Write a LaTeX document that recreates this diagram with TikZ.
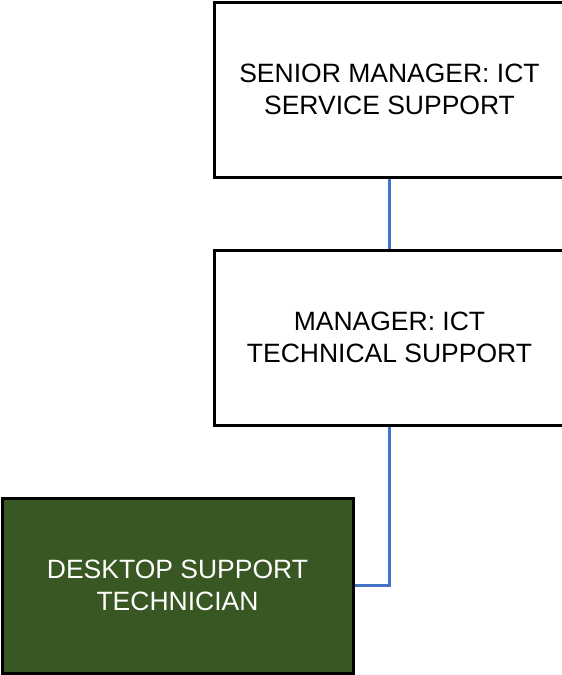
\documentclass[tikz,border=0pt]{standalone}
\usepackage{fontspec}
\setmainfont{Liberation Sans}
\definecolor{linkblue}{RGB}{68,114,196}
\definecolor{deskgreen}{RGB}{56,87,35}
\tikzset{
  postbox/.style={draw=black, line width=3pt, fill=white, minimum width=351pt,
    minimum height=175pt, align=center, inner sep=0pt,
    font=\fontsize{26.5pt}{32pt}\selectfont},
  link/.style={linkblue, line width=2.5pt}
}
\begin{document}
\begin{tikzpicture}[x=1pt, y=-1pt]

  % -- Page frame --
  \clip (0, 0) rectangle (562, 675);

  % -- Posts --
  \node[postbox] (senior) at (389.5, 89.5) {SENIOR MANAGER: ICT\\SERVICE SUPPORT};
  \node[postbox] (manager) at (389.5, 337.5) {MANAGER: ICT\\TECHNICAL SUPPORT};
  \node[postbox, fill=deskgreen, text=white] (desktop) at (177.5, 585.5) {DESKTOP SUPPORT\\TECHNICIAN};

  % -- Reporting lines --
  \draw[link] (senior.south) -- (manager.north);
  \draw[link] (manager.south) |- (desktop.east);

\end{tikzpicture}
\end{document}
